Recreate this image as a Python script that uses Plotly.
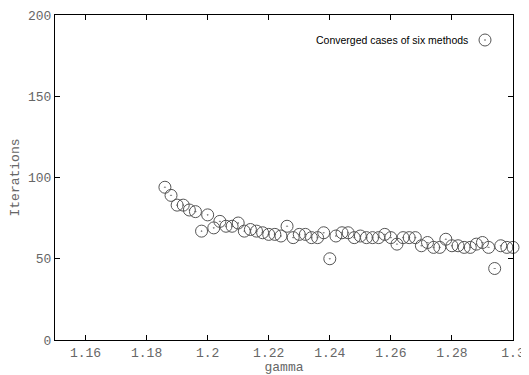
import plotly.graph_objects as go

gamma = [round(1.186 + 0.002 * i, 3) for i in range(58)]
iterations = [94, 89, 83, 83, 80, 79, 67, 77, 69, 73,
              70, 70, 72, 67, 68, 67, 66, 65, 65, 64,
              70, 63, 65, 65, 63, 63, 66, 50, 64, 66,
              66, 63, 64, 63, 63, 63, 65, 63, 59, 63,
              63, 63, 58, 60, 57, 57, 62, 58, 58, 57,
              57, 59, 60, 57, 44, 58, 57, 57]
x_ticks = [1.16, 1.18, 1.2, 1.22, 1.24, 1.26, 1.28, 1.3]
x_ticktext = ["1.16", "1.18", "1.2", "1.22", "1.24", "1.26", "1.28", "1.3"]
y_ticks = [0, 50, 100, 150, 200]
series_name = "Converged cases of six methods"

# page has an 8px body margin; plot area should span page x 55..513, y 15..340
PW, PH = 458, 325

fig = go.Figure()
fig.add_trace(go.Scatter(
    x=gamma, y=iterations, mode="markers",
    name=" ",
    marker=dict(symbol="circle-open-dot", size=12, color="#555555",
                line=dict(width=1, color="#555555")),
    cliponaxis=False,
))

mono = dict(family="Liberation Mono, Courier New, monospace", size=13, color="#666666")
fig.add_annotation(xref="paper", yref="paper", x=(470 - 55) / PW, y=(340 - 40) / PH,
                   xanchor="right", yanchor="middle", showarrow=False,
                   text=series_name,
                   font=dict(family="Liberation Sans, Arial, sans-serif", size=10.5, color="#000000"))
fig.update_layout(
    width=521, height=367,
    margin=dict(l=47, r=16, t=7, b=35),
    paper_bgcolor="white", plot_bgcolor="white",
    showlegend=True,
    legend=dict(x=(465 - 55) / PW, y=(340 - 40) / PH, xanchor="left", yanchor="middle",
                font=dict(family="Liberation Sans, Arial, sans-serif", size=11, color="#000000"),
                bgcolor="rgba(0,0,0,0)", itemwidth=30),
    xaxis=dict(range=[1.15, 1.3], tickvals=x_ticks, ticktext=x_ticktext, automargin=False,
               ticks="inside", ticklen=5, tickcolor="#000", mirror="ticks",
               showline=True, linecolor="#000", linewidth=1, showgrid=False, zeroline=False,
               tickfont=mono, title=dict(text="gamma", font=mono, standoff=0)),
    yaxis=dict(range=[0, 200], tickvals=y_ticks, automargin=False,
               ticks="inside", ticklen=5, tickcolor="#000", mirror="ticks",
               showline=True, linecolor="#000", linewidth=1, showgrid=False, zeroline=False,
               tickfont=mono, title=dict(text="Iterations", font=mono, standoff=5)),
)
fig.write_html("out.html")
